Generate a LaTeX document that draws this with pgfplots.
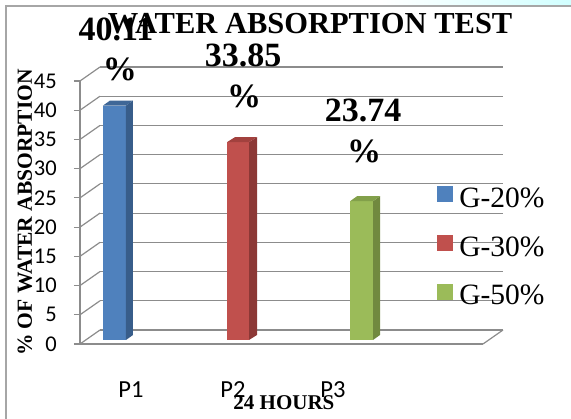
\documentclass[border=0pt]{standalone}
\usepackage{pgfplots}
\pgfplotsset{compat=1.18}
\usepackage{fontspec}
\setmainfont{Liberation Serif}
\newfontfamily\calibri{Carlito}
\definecolor{b1}{HTML}{4F81BD}\definecolor{b2}{HTML}{385D8A}\definecolor{b3}{HTML}{3F6797}
\definecolor{r1}{HTML}{C0504D}\definecolor{r2}{HTML}{8C3836}\definecolor{r3}{HTML}{A2413E}
\definecolor{g1}{HTML}{9BBB59}\definecolor{g2}{HTML}{71893F}\definecolor{g3}{HTML}{82A04A}
\definecolor{gridc}{HTML}{8C8C8C}
\begin{document}
\begin{tikzpicture}
\useasboundingbox (0,0) rectangle (571pt,419pt);
\shade[left color=white, right color=cyan!18] (380pt,413pt) rectangle (571pt,419pt);
\draw[gray!70, line width=1.2pt] (6pt,0) -- (6pt,413pt) -- (571pt,413pt);
\begin{axis}[
  at={(80pt,75pt)}, anchor=south west,
  scale only axis, width=403pt, height=263pt,
  xmin=80, xmax=483, ymin=0, ymax=45,
  clip=false,
  axis x line*=bottom, axis y line*=left,
  axis line style={gridc, line width=1.2pt, -},
  ytick={0,5,...,45},
  xtick={131,233,333}, xticklabels={P1,P2,P3},
  x tick style={draw=none},
  y tick style={gridc, line width=1.2pt},
  tick align=outside, major tick length=6pt,
  ymajorgrids, major grid style={gridc, line width=1.2pt, shift={(20pt,14pt)}},
  /pgf/number format/assume math mode=true,
  yticklabel style={font=\calibri\fontsize{22.5}{22.5}\selectfont, anchor=east, inner sep=0pt, xshift=-17pt},
  xticklabel style={font=\calibri\fontsize{24.5}{24.5}\selectfont, anchor=base, inner sep=0pt, yshift=-48pt},
  title={WATER ABSORPTION TEST},
  title style={font=\bfseries\fontsize{30.5}{30.5}\selectfont, at={(rel axis cs:0.571,1)}, anchor=base, yshift=41pt, inner sep=0pt},
  ylabel={\% OF WATER ABSORPTION},
  every axis y label/.style={at={(rel axis cs:-0.1365,0.5)}, rotate=90, anchor=center, font=\bfseries\fontsize{21.5}{21.5}\selectfont},
  xlabel={24 HOURS},
  every axis x label/.style={at={(rel axis cs:0.506,0)}, anchor=base, yshift=-66pt, inner sep=0pt, font=\bfseries\fontsize{21}{21}\selectfont},
  legend style={draw=none, fill=none, at={(rel axis cs:0.886,0.60)}, anchor=north west,
    font=\fontsize{29.5}{29.5}\selectfont, row sep=26pt, inner sep=0pt,
    nodes={inner sep=0pt}, /tikz/every odd column/.append style={column sep=6pt}},
  legend cell align=left,
  legend image code/.code={\fill[#1] (0pt,-8pt) rectangle (16pt,8pt);},
]
\pgfplotsinvokeforeach{0,5,...,45}{\draw[gridc, line width=1.2pt] (axis cs:80,#1) -- ++(20pt,14pt);}
\draw[gridc, line width=1.2pt] (axis cs:483,0) -- ++(20pt,14pt);
% front faces (legend)
\addplot[fill=b1, draw=none, yshift=4pt] coordinates {(103,0) (103,40.11) (126,40.11) (126,0)} -- cycle;
\addlegendentry{G-20\%}
\addplot[fill=r1, draw=none, yshift=4pt] coordinates {(227,0) (227,33.85) (249,33.85) (249,0)} -- cycle;
\addlegendentry{G-30\%}
\addplot[fill=g1, draw=none, yshift=4pt] coordinates {(350,0) (350,23.74) (373,23.74) (373,0)} -- cycle;
\addlegendentry{G-50\%}
% side faces
\addplot[forget plot, fill=b2, draw=none, yshift=4pt] coordinates {(126,0) (133,0.86) (133,40.97) (126,40.11)} -- cycle;
\addplot[forget plot, fill=r2, draw=none, yshift=4pt] coordinates {(249,0) (257,0.86) (257,34.71) (249,33.85)} -- cycle;
\addplot[forget plot, fill=g2, draw=none, yshift=4pt] coordinates {(373,0) (380,0.86) (380,24.60) (373,23.74)} -- cycle;
% top faces
\addplot[forget plot, fill=b3, draw=none, yshift=4pt] coordinates {(103,40.11) (126,40.11) (133,40.97) (110,40.97)} -- cycle;
\addplot[forget plot, fill=r3, draw=none, yshift=4pt] coordinates {(227,33.85) (249,33.85) (257,34.71) (235,34.71)} -- cycle;
\addplot[forget plot, fill=g3, draw=none, yshift=4pt] coordinates {(350,23.74) (373,23.74) (380,24.60) (357,24.60)} -- cycle;
% data labels
\begin{scope}[every node/.style={font=\bfseries\fontsize{34}{34}\selectfont, anchor=base, inner sep=0pt}]
\node at (axis cs:116,52.0) {40.11};
\node at (axis cs:120,45.0) {\%};
\node at (axis cs:243,47.4) {33.85};
\node at (axis cs:244,40.4) {\%};
\node at (axis cs:363,38.0) {23.74};
\node at (axis cs:364,31.0) {\%};
\end{scope}
\end{axis}
\end{tikzpicture}
\end{document}
